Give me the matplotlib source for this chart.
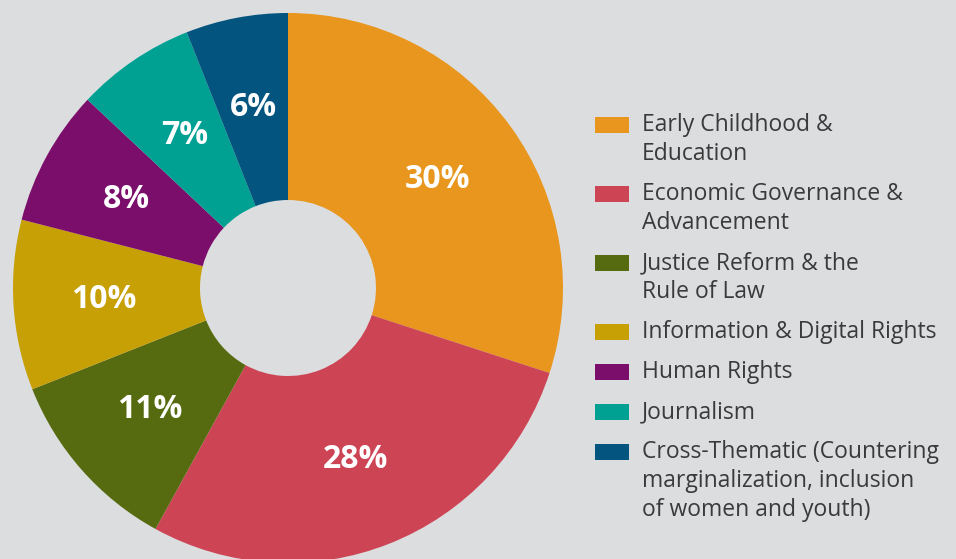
import matplotlib
matplotlib.use('Agg')
import matplotlib.pyplot as plt
from matplotlib.patches import Rectangle

# data
labels = ['Early Childhood &\nEducation',
          'Economic Governance &\nAdvancement',
          'Justice Reform & the\nRule of Law',
          'Information & Digital Rights',
          'Human Rights',
          'Journalism',
          'Cross-Thematic (Countering\nmarginalization, inclusion\nof women and youth)']
shares = [30, 28, 11, 10, 8, 7, 6]
colors = ['#e8961e', '#cd4555', '#566b10', '#c7a006', '#7b0d6b', '#00a093', '#03557f']

bg = '#dcdddf'
W, H = 956, 559
fig = plt.figure(figsize=(W / 100, H / 100), dpi=100, facecolor=bg)

# donut: centre (288,288) px, radius 275 px
cx, cy, r = 288, 288, 275
ax = fig.add_axes([(cx - r) / W, (H - cy - r) / H, 2 * r / W, 2 * r / H])
ax.set_facecolor(bg)
wedges, texts, autotexts = ax.pie(
    shares, colors=colors, startangle=90, counterclock=False,
    radius=1, wedgeprops=dict(width=0.68, linewidth=0),
    autopct='%.0f%%', pctdistance=0.67,
    textprops=dict(color='white', fontsize=23, fontweight='bold', family='Open Sans'))
ax.set_xlim(-1, 1)
ax.set_ylim(-1, 1)
ax.set_aspect('equal')
ax.axis('off')

# legend, drawn by hand so multi-line labels space like the original
y = 125
for lab, col in zip(labels, colors):
    nlines = lab.count('\n') + 1
    fig.patches.append(Rectangle((595 / W, 1 - (y + 8) / H), 34 / W, 16 / H,
                                 transform=fig.transFigure, facecolor=col,
                                 edgecolor='none'))
    for i, line in enumerate(lab.split('\n')):
        fig.text(642 / W, 1 - (y + i * 29) / H, line, va='center', ha='left',
                 fontsize=16.5, color='#3a3a3a', family='Open Sans')
    y += (nlines - 1) * 29 + 40

fig.savefig('out.png', dpi=100, facecolor=bg)
